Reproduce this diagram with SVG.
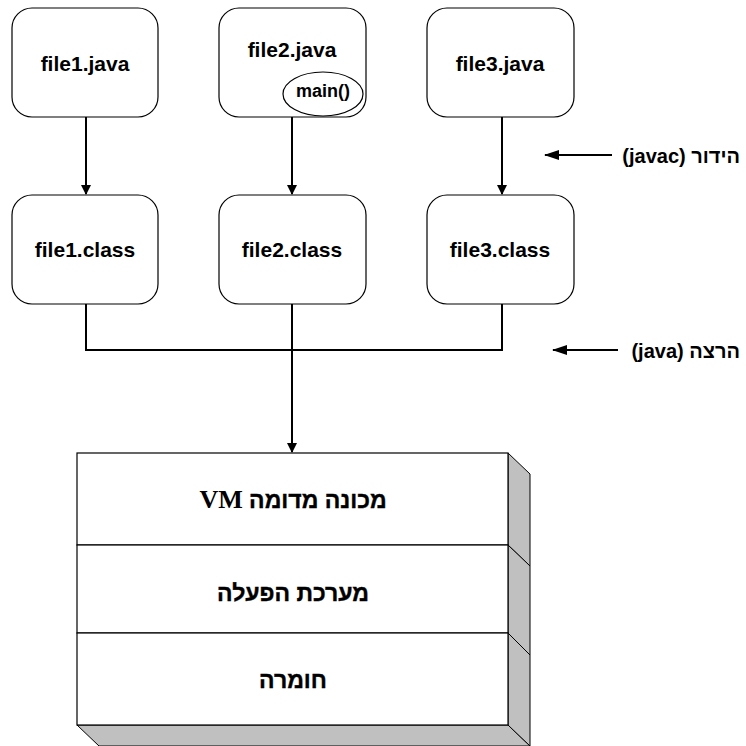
<svg xmlns="http://www.w3.org/2000/svg" width="746" height="746" viewBox="0 0 746 746">
<style>
.box{fill:#fff;stroke:#000;stroke-width:1.2}
.lbl{font-family:"Liberation Sans",Arial,sans-serif;font-weight:bold;font-size:21px;text-anchor:middle;fill:#000}
.small{font-size:18px}
.side{font-family:"Liberation Sans","DejaVu Sans",sans-serif;font-weight:bold;font-size:20px;fill:#000}
.heb{font-family:"Liberation Sans","DejaVu Sans",sans-serif;font-weight:bold;font-size:23px;text-anchor:middle;fill:#000;stroke:#000;stroke-width:0.4}
.ser{font-family:"Liberation Serif","Times New Roman",serif;font-size:26px;stroke-width:0}
.con{fill:none;stroke:#000;stroke-width:2}
.face{fill:#fff;stroke:#000;stroke-width:1.2}
.shade{fill:#c0c0c0;stroke:#000;stroke-width:1}
</style>
<defs>
<marker id="ah" markerWidth="10" markerHeight="10" refX="9" refY="5" orient="auto" markerUnits="userSpaceOnUse">
<path d="M0,0 L10,5 L0,10 Z" fill="#000"/>
</marker>
<marker id="ah2" markerWidth="15" markerHeight="10" refX="14" refY="5" orient="auto" markerUnits="userSpaceOnUse">
<path d="M0,0 L15,5 L0,10 Z" fill="#000"/>
</marker>
</defs>
<rect width="746" height="746" fill="#fff"/>
<g id="connectors">
<line class="con" x1="86" y1="117" x2="86" y2="194" marker-end="url(#ah)"/>
<line class="con" x1="292" y1="117" x2="292" y2="194" marker-end="url(#ah)"/>
<line class="con" x1="502" y1="117" x2="502" y2="194" marker-end="url(#ah)"/>
<polyline class="con" points="86,304 86,350 502,350 502,304"/>
<line class="con" x1="292" y1="304" x2="292" y2="452" marker-end="url(#ah)"/>
<line class="con" x1="612" y1="155" x2="545" y2="155" marker-end="url(#ah2)"/>
<line class="con" x1="618" y1="350" x2="553" y2="350" marker-end="url(#ah2)"/>
</g>
<g id="file1java"><rect class="box" x="12" y="8" width="146" height="109" rx="20"/><text class="lbl" x="85" y="71">file1.java</text></g>
<g id="file2java"><rect class="box" x="219" y="8" width="147" height="109" rx="20"/><text class="lbl" x="292" y="57">file2.java</text>
<g id="main"><ellipse cx="323" cy="94" rx="40" ry="22" fill="none" stroke="#000" stroke-width="1.2"/><text class="lbl small" x="323" y="97">main()</text></g></g>
<g id="file3java"><rect class="box" x="427" y="8" width="147" height="109" rx="20"/><text class="lbl" x="500" y="71">file3.java</text></g>
<g id="file1class"><rect class="box" x="12" y="195" width="146" height="109" rx="20"/><text class="lbl" x="85" y="257">file1.class</text></g>
<g id="file2class"><rect class="box" x="219" y="195" width="147" height="109" rx="20"/><text class="lbl" x="292" y="257">file2.class</text></g>
<g id="file3class"><rect class="box" x="427" y="195" width="147" height="109" rx="20"/><text class="lbl" x="500" y="257">file3.class</text></g>
<g id="label-compile"><text class="side" x="740" y="163" direction="rtl" text-anchor="start">הידור (javac)</text></g>
<g id="label-run"><text class="side" x="740" y="358" direction="rtl" text-anchor="start">הרצה (java)</text></g>
<g id="stack">
<polygon class="shade" points="77,725 508,725 530,746 99,746"/>
<polygon class="shade" points="508,453 530,474 530,566 508,545"/>
<polygon class="shade" points="508,545 530,566 530,655 508,633"/>
<polygon class="shade" points="508,633 530,655 530,746 508,725"/>
<g id="layer-vm"><rect class="face" x="77" y="453" width="431" height="92"/><text class="heb" x="293" y="508" direction="rtl">מכונה מדומה <tspan class="ser">VM</tspan></text></g>
<g id="layer-os"><rect class="face" x="77" y="545" width="431" height="88"/><text class="heb" x="293" y="601" direction="rtl">מערכת הפעלה</text></g>
<g id="layer-hw"><rect class="face" x="77" y="633" width="431" height="92"/><text class="heb" x="293" y="688" direction="rtl">חומרה</text></g>
</g>
</svg>
